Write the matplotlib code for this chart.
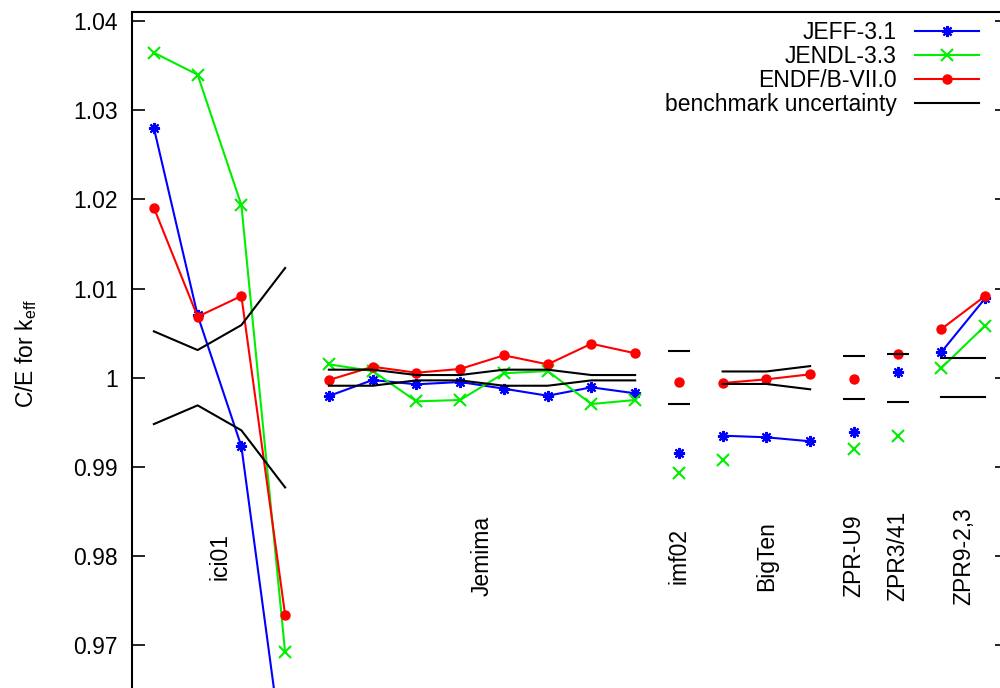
import matplotlib
matplotlib.use("Agg")
import matplotlib.pyplot as plt
import numpy as np

BLUE, GREEN, RED, INK = "#0000ff", "#00ee00", "#ff0000", "#000000"
plt.rcParams.update({
    "font.family": ["Liberation Sans", "DejaVu Sans"],
    "font.size": 16.5,
    "mathtext.default": "regular",
    "axes.linewidth": 1.5,
})

# grupos de benchmarks (etiqueta, número de casos)
groups = ["ici01", "Jemima", "imf02", "BigTen", "ZPR-U9", "ZPR3/41", "ZPR9-2,3"]
group_sizes = [4, 8, 1, 3, 1, 1, 2]

nan = np.nan
jeff = [1.0280, 1.0070, 0.9923, 0.9558,
        0.99795, 0.99974, 0.99926, 0.99952, 0.99877, 0.99798, 0.99892, 0.99825,
        0.99152,
        0.9935, 0.99332, 0.99287,
        0.99395,
        1.00067,
        1.00288, 1.0089]
jendl = [1.03644, 1.03397, 1.01936, 0.96921,
         1.0015, 1.00075, 0.99735, 0.9975, 1.0005, 1.00075, 0.99705, 0.9975,
         0.98935,
         0.99074, nan, nan,
         0.99197,
         0.99343,
         1.00109, 1.00583]
endf = [1.01906, 1.00684, 1.00916, 0.9734,
        0.99974, 1.00123, 1.00056, 1.00098, 1.00251, 1.0015, 1.00381, 1.00274,
        0.99948,
        0.9994, 0.99982, 1.00038,
        0.99985,
        1.00262,
        1.00546, 1.00916]
unc = [0.0052, 0.0031, 0.0059, 0.0123,
       0.0009, 0.0009, 0.0003, 0.0003, 0.0009, 0.0009, 0.0003, 0.0003,
       0.0030,
       0.0007, 0.0007, 0.0013,
       0.0024,
       0.0027,
       0.0022, 0.0022]
yticks = [0.97, 0.98, 0.99, 1.0, 1.01, 1.02, 1.03, 1.04]
ytick_labels = ["0.97", "0.98", "0.99", "1", "1.01", "1.02", "1.03", "1.04"]

series = [
    (jeff, "JEFF-3.1", BLUE, dict(marker=(8, 2, 0), ms=8, mew=1.5)),
    (jendl, "JENDL-3.3", GREEN, dict(marker="x", ms=8, mew=1.5)),
    (endf, "ENDF/B-VII.0", RED, dict(marker="o", ms=7.5, mew=0)),
]

Y0, Y1 = 0.95, 1.041
fig = plt.figure(figsize=(10, 6.88), dpi=100)
# el recorte original deja fuera el eje inferior y el derecho
top = 1 - 12 / 688
bottom = 1 - 823.7 / 688
ax = fig.add_axes([0.132, bottom, 0.875, top - bottom])

x_all = np.arange(1, len(jeff) + 1)
start = 0
for gi, (name, n) in enumerate(zip(groups, group_sizes)):
    idx = slice(start, start + n)
    xs = x_all[idx]
    for vals, lbl, col, mk in series:
        ax.plot(xs, np.array(vals[idx]), color=col, lw=1.5, label=lbl if gi == 0 else None, **mk)
    u = np.array(unc[idx])
    if n > 1:
        ax.plot(xs, 1 + u, color=INK, lw=1.5,
                label="benchmark uncertainty" if gi == 0 else None)
        ax.plot(xs, 1 - u, color=INK, lw=1.5)
    else:
        ax.hlines([1 + u[0], 1 - u[0]], xs[0] - 0.25, xs[0] + 0.25, color=INK, lw=1.5)
    ax.text(xs.mean(), 0.98, name, rotation=90, ha="center", va="center")
    start += n

ax.set_xlim(0.5, 20.5)
ax.set_ylim(Y0, Y1)
ax.set_yticks(yticks)
ax.set_yticklabels(ytick_labels)
ax.tick_params(axis="y", direction="in", length=9, width=1.2, right=True, pad=10)
ax.tick_params(axis="x", bottom=False, labelbottom=False)

fig.text(0.026, 1 - 353 / 688, "C/E for k$_{eff}$", rotation=90, ha="center", va="center")

ax.legend(loc="upper right", bbox_to_anchor=(0.979, 1 - 21 / 688), bbox_transform=fig.transFigure,
          frameon=False, markerfirst=False, handlelength=2.8, handletextpad=0.8,
          labelspacing=0.04, borderpad=0, borderaxespad=0, numpoints=1)

fig.savefig("out.png", dpi=100)
